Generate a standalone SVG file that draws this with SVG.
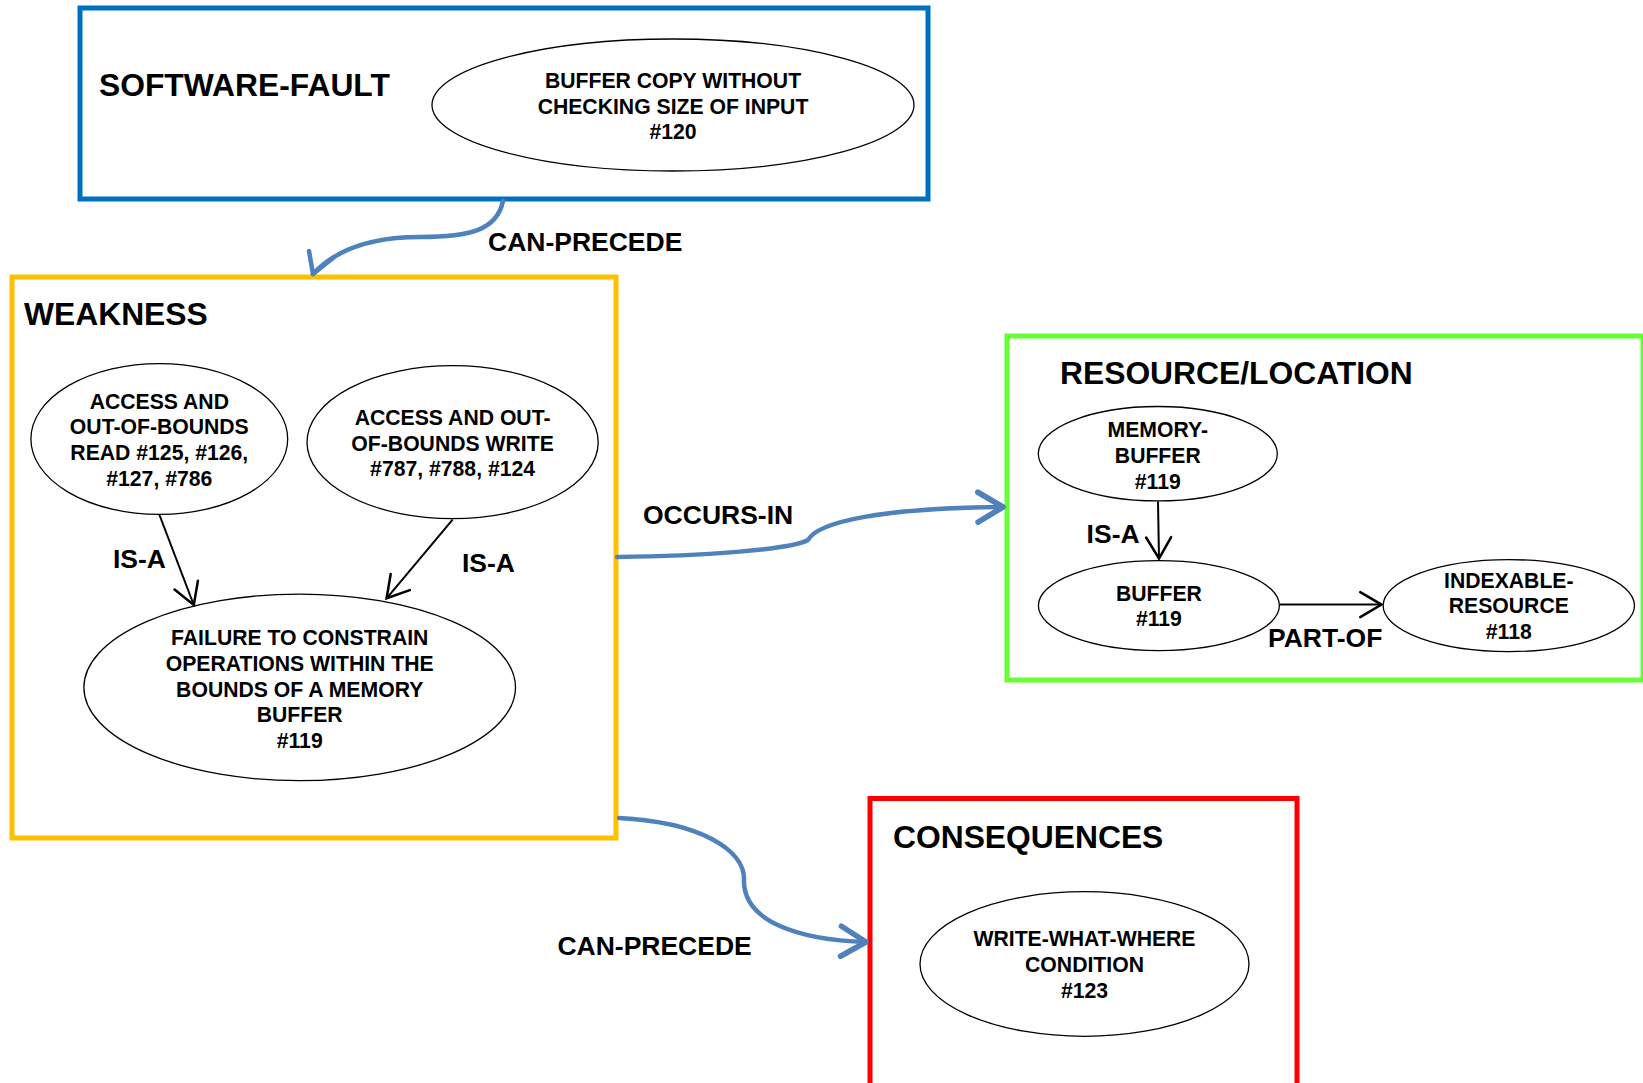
<svg xmlns="http://www.w3.org/2000/svg" width="1643" height="1083" viewBox="0 0 1643 1083">
  <style>
    text { font-family: "Liberation Sans", Arial, sans-serif; font-weight: bold; fill: #000; }
    .title { font-size: 31.8px; }
    .label { font-size: 26.5px; }
    .node text { font-size: 21.2px; text-anchor: middle; }
    .node ellipse { fill: #fff; stroke: #000; stroke-width: 1.3; }
    .frame { fill: none; stroke-width: 5; }
    .flow { fill: none; stroke: #4F81BD; stroke-width: 4.5; stroke-linecap: round; stroke-linejoin: round; }
    .rel { fill: none; stroke: #000; stroke-width: 2; }
  </style>
  <defs>
    <marker id="blueHead" markerUnits="userSpaceOnUse" markerWidth="40" markerHeight="40" refX="0" refY="0" viewBox="-24 -16 28 32" orient="auto">
      <path d="M -20,-12 L 0,0 L -20,12" fill="none" stroke="#4F81BD" stroke-width="4.5" stroke-linecap="round" stroke-linejoin="round"/>
    </marker>
    <marker id="blackHead" markerUnits="userSpaceOnUse" markerWidth="30" markerHeight="30" refX="0" refY="0" viewBox="-20 -12 22 24" orient="auto">
      <path d="M -17,-10 L 0,0 L -17,10" fill="none" stroke="#000" stroke-width="2" stroke-linecap="round"/>
    </marker>
  </defs>

  <rect width="1643" height="1083" fill="#fff"/>

  <!-- Software fault -->
  <g id="software-fault">
    <rect class="frame" x="80" y="8" width="848" height="191" stroke="#0070C0"/>
    <text class="title" x="99" y="96">SOFTWARE-FAULT</text>
    <g id="buffer-copy" class="node">
      <ellipse cx="673" cy="105" rx="241" ry="66"/>
      <text x="673" y="88">BUFFER COPY WITHOUT</text>
      <text x="673" y="113.7">CHECKING SIZE OF INPUT</text>
      <text x="673" y="139.4">#120</text>
    </g>
  </g>

  <!-- Weakness -->
  <g id="weakness">
    <rect class="frame" x="12" y="277" width="604" height="561" stroke="#FFC000"/>
    <text class="title" x="24" y="325">WEAKNESS</text>
    <g id="oob-read" class="node">
      <ellipse cx="159.3" cy="439" rx="128.4" ry="75.4"/>
      <text x="159.3" y="408.8">ACCESS AND</text>
      <text x="159.3" y="434.3">OUT-OF-BOUNDS</text>
      <text x="159.3" y="460">READ #125, #126,</text>
      <text x="159.3" y="486">#127, #786</text>
    </g>
    <g id="oob-write" class="node">
      <ellipse cx="452.6" cy="442.2" rx="145.6" ry="76.5"/>
      <text x="452.6" y="424.5">ACCESS AND OUT-</text>
      <text x="452.6" y="450.5">OF-BOUNDS WRITE</text>
      <text x="452.6" y="476">#787, #788, #124</text>
    </g>
    <g id="bounds-failure" class="node">
      <ellipse cx="299.7" cy="687.4" rx="215.8" ry="93.3"/>
      <text x="299.7" y="644.5">FAILURE TO CONSTRAIN</text>
      <text x="299.7" y="670.6">OPERATIONS WITHIN THE</text>
      <text x="299.7" y="696.7">BOUNDS OF A MEMORY</text>
      <text x="299.7" y="722.2">BUFFER</text>
      <text x="299.7" y="748.3">#119</text>
    </g>
  </g>

  <!-- Resource / location (frame runs to the right edge) -->
  <g id="resource-location">
    <rect class="frame" x="1007" y="336" width="636" height="344" stroke="#66FF33"/>
    <text class="title" x="1060" y="384">RESOURCE/LOCATION</text>
    <g id="memory-buffer" class="node">
      <ellipse cx="1157.8" cy="453.7" rx="119.5" ry="47.2"/>
      <text x="1157.8" y="437.1">MEMORY-</text>
      <text x="1157.8" y="463.3">BUFFER</text>
      <text x="1157.8" y="488.5">#119</text>
    </g>
    <g id="buffer" class="node">
      <ellipse cx="1158.9" cy="605.6" rx="120.5" ry="45"/>
      <text x="1158.9" y="600.5">BUFFER</text>
      <text x="1158.9" y="625.7">#119</text>
    </g>
    <g id="indexable-resource" class="node">
      <ellipse cx="1508.8" cy="605.6" rx="125.7" ry="46"/>
      <text x="1508.8" y="588">INDEXABLE-</text>
      <text x="1508.8" y="613.3">RESOURCE</text>
      <text x="1508.8" y="639.3">#118</text>
    </g>
  </g>

  <!-- Consequences (frame runs past the bottom edge) -->
  <g id="consequences">
    <rect class="frame" x="870" y="798.5" width="427" height="300" stroke="#FF0000"/>
    <text class="title" x="893" y="848">CONSEQUENCES</text>
    <g id="write-what-where" class="node">
      <ellipse cx="1084.5" cy="964" rx="164.5" ry="72.3"/>
      <text x="1084.5" y="946.3">WRITE-WHAT-WHERE</text>
      <text x="1084.5" y="971.7">CONDITION</text>
      <text x="1084.5" y="997.5">#123</text>
    </g>
  </g>

  <!-- Connectors and their labels -->
  <g id="connectors">
    <!-- software fault -> weakness, head drawn explicitly -->
    <path class="flow" d="M 503,201 C 497,230 470,237 420,237 C 375,237 338,247 313,274"/>
    <path class="flow" d="M 309,251 L 313,274 L 333,258"/>
    <path class="flow" d="M 617,557 C 700,556 790,550 808,540 C 818,522 880,508 1003,507" marker-end="url(#blueHead)"/>
    <path class="flow" d="M 619,818 C 700,822 745,850 744,880 C 743,922 800,940 866,942" marker-end="url(#blueHead)"/>
    <path class="rel" d="M 159.3,514.5 L 193.8,605" marker-end="url(#blackHead)"/>
    <path class="rel" d="M 452.6,519.7 L 386.6,598.3" marker-end="url(#blackHead)"/>
    <path class="rel" d="M 1158,501.5 L 1159,558.5" marker-end="url(#blackHead)"/>
    <path class="rel" d="M 1280,604.6 L 1381.5,604.6" stroke-width="2.6" marker-end="url(#blackHead)"/>

    <text class="label" x="488" y="251.3">CAN-PRECEDE</text>
    <text class="label" x="113" y="567.8">IS-A</text>
    <text class="label" x="462" y="572">IS-A</text>
    <text class="label" x="643" y="523.8">OCCURS-IN</text>
    <text class="label" x="1086.6" y="542.6">IS-A</text>
    <text class="label" x="1268" y="647.3">PART-OF</text>
    <text class="label" x="557.4" y="955.3">CAN-PRECEDE</text>
  </g>
</svg>
